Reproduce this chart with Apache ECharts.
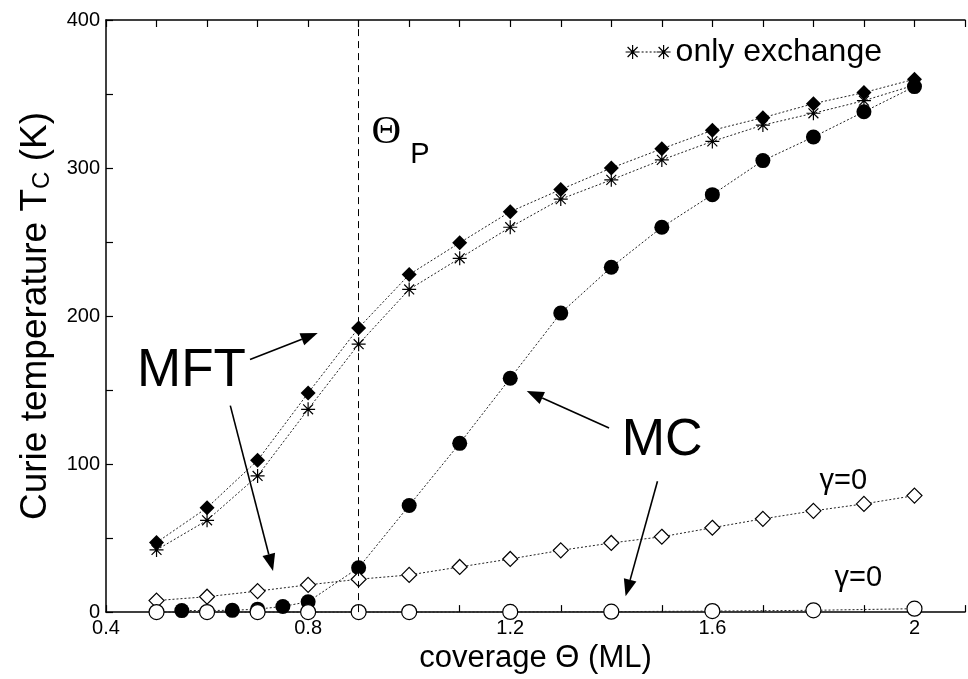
<!DOCTYPE html>
<html>
<head>
<meta charset="utf-8">
<script src="https://cdn.jsdelivr.net/npm/echarts@6/dist/echarts.min.js"></script>
<style>
  html, body { margin: 0; padding: 0; background: #fff; }
  #chart { width: 968px; height: 679px; }
</style>
</head>
<body>
<div id="chart"></div>
<script>
const FONT = '"Liberation Sans", Arial, Helvetica, sans-serif';
const SERIF = '"Liberation Serif", "Times New Roman", serif';

// Mean-field results on a common coverage grid (ML)
const coverage = [0.5, 0.6, 0.7, 0.8, 0.9, 1.0, 1.1, 1.2, 1.3, 1.4, 1.5, 1.6, 1.7, 1.8, 1.9, 2.0];
const tcMFT = [47, 70.5, 102.5, 148, 192, 228, 249.5, 270.5, 285.5, 300, 313, 325.5, 334, 343.5, 351, 360];
const tcExchange = [42, 62, 92, 137, 181, 218, 239, 260, 279, 292, 305.5, 318, 329, 337, 345.5, 356];
const tcMFTGamma0 = [7.8, 10.4, 14.2, 18.4, 22.2, 25.1, 30.5, 35.9, 41.7, 46.7, 50.9, 57, 63, 68.4, 73.1, 78.7];

// Monte Carlo results
const coverageMC = [0.55, 0.65, 0.7, 0.75, 0.8, 0.9, 1.0, 1.1, 1.2, 1.3, 1.4, 1.5, 1.6, 1.7, 1.8, 1.9, 2.0];
const tcMC = [1, 1.2, 2, 3.8, 7, 30, 72, 114, 158, 202, 233, 260, 282, 305, 321, 338, 355];
const coverageMCGamma0 = [0.5, 0.6, 0.7, 0.8, 0.9, 1.0, 1.2, 1.4, 1.6, 1.8, 2.0];
const tcMCGamma0 = [0, 0, 0, 0, 0, 0, 0.1, 0.3, 0.7, 1.2, 2.3];

// percolation coverage
const thetaP = 0.9;

// labelled ticks
const xTicks = [0.4, 0.8, 1.2, 1.6, 2];
const yTicks = [0, 100, 200, 300, 400];

// annotation arrows in data units: [tailX, tailY, tipX, tipY]
const arrows = [
  [0.685, 170.7, 0.819, 188.5],
  [0.646, 139.5, 0.7306, 27.8],
  [1.3956, 124.4, 1.2327, 149.3],
  [1.4914, 88.4, 1.4283, 10.7]
];

// annotation texts (centred at the given data position)
const noteText   = ['MFT', 'MC', 'γ=0', 'γ=0', 'Θ', 'P'];
const noteX      = [0.5692, 1.5005, 1.8590, 1.8890, 0.9545, 1.0212];
const noteY      = [162.7, 115.7, 88.7, 22.7, 324, 308.7];
const noteSize   = [53, 52, 29, 29, 41, 29];
const noteFamily = [FONT, FONT, FONT, FONT, SERIF, FONT];

const pairs = (xs, ys) => xs.map((x, i) => [x, ys[i]]);
const isTick = (v, list) => list.some(t => Math.abs(t - v) < 1e-6);

const STAR = 'path://M0,-10L0,10M-10,0L10,0M-7.07,-7.07L7.07,7.07M-7.07,7.07L7.07,-7.07';
// key sample: two asterisks joined by a dotted line
const KEY_ICON = 'path://M7,0L7,14M0,7L14,7M2,2L12,12M2,12L12,2' +
  'M38,0L38,14M31,7L45,7M33,2L43,12M33,12L43,2' +
  'M16,7L18,7M20,7L22,7M24,7L26,7M28,7L30,7';

const dotted = { color: '#222', width: 1, type: [2, 2] };

const xAxisBase = {
  type: 'value', min: 0.4, max: 2.1, interval: 0.1,
  axisLine: { show: true, onZero: false, lineStyle: { color: '#000', width: 1.5 } },
  axisTick: { show: true, inside: true, length: 7, lineStyle: { color: '#000', width: 1.2 } },
  splitLine: { show: false }
};

const chart = echarts.init(document.getElementById('chart'), null, { renderer: 'canvas' });

chart.setOption({
  animation: false,
  backgroundColor: '#fff',
  grid: { left: 106, top: 20, width: 869, height: 600, containLabel: false },
  legend: {
    data: [{ name: 'only exchange', icon: KEY_ICON }],
    left: 625, top: 36, padding: 0,
    itemWidth: 45, itemHeight: 14,
    itemStyle: { color: 'transparent', borderColor: '#000', borderWidth: 1.2 },
    textStyle: { fontSize: 32, fontFamily: FONT, color: '#000' },
    selectedMode: false
  },
  xAxis: [
    Object.assign({}, xAxisBase, {
      position: 'bottom',
      axisLabel: {
        formatter: v => isTick(v, xTicks) ? String(+v.toFixed(1)) : '',
        fontSize: 20, fontFamily: FONT, color: '#000', margin: 6
      },
      name: 'coverage Θ (ML)', nameLocation: 'middle', nameGap: 24,
      nameTextStyle: { fontSize: 31, fontFamily: FONT, color: '#000' }
    }),
    Object.assign({}, xAxisBase, { position: 'top', axisLabel: { show: false } })
  ],
  yAxis: {
    type: 'value', min: 0, max: 400, interval: 50,
    axisLine: { show: true, lineStyle: { color: '#000', width: 1.5 } },
    axisTick: { show: true, inside: true, length: 7, lineStyle: { color: '#000', width: 1.2 } },
    splitLine: { show: false },
    axisLabel: {
      formatter: v => isTick(v, yTicks) ? String(v) : '',
      fontSize: 20, fontFamily: FONT, color: '#000', margin: 6
    },
    name: 'Curie temperature T{sub|C} (K)', nameLocation: 'middle', nameGap: 52,
    nameTextStyle: {
      fontSize: 37, fontFamily: FONT, color: '#000',
      rich: { sub: { fontSize: 24, fontFamily: FONT, color: '#000', verticalAlign: 'bottom' } }
    }
  },
  series: [
    {
      name: 'only exchange', type: 'line', data: pairs(coverage, tcExchange),
      symbol: STAR, symbolSize: 14, clip: false,
      itemStyle: { color: 'transparent', borderColor: '#000', borderWidth: 1.2 },
      lineStyle: dotted,
      markLine: {
        silent: true, symbol: 'none', label: { show: false },
        lineStyle: { color: '#000', width: 1, type: [7, 5] },
        data: [{ xAxis: thetaP }]
      }
    },
    {
      name: 'MFT', type: 'line', data: pairs(coverage, tcMFT),
      symbol: 'diamond', symbolSize: 15, clip: false,
      itemStyle: { color: '#000' }, lineStyle: dotted
    },
    {
      name: 'MC', type: 'line', data: pairs(coverageMC, tcMC),
      symbol: 'circle', symbolSize: 15, clip: false,
      itemStyle: { color: '#000' }, lineStyle: dotted
    },
    {
      name: 'MFT γ=0', type: 'line', data: pairs(coverage, tcMFTGamma0),
      symbol: 'diamond', symbolSize: 15, clip: false,
      itemStyle: { color: '#fff', borderColor: '#000', borderWidth: 1.2 },
      lineStyle: dotted
    },
    {
      name: 'MC γ=0', type: 'line', data: pairs(coverageMCGamma0, tcMCGamma0),
      symbol: 'circle', symbolSize: 15, clip: false,
      itemStyle: { color: '#fff', borderColor: '#000', borderWidth: 1.2 },
      lineStyle: dotted
    },
    {
      name: 'arrows', type: 'custom', data: arrows, clip: false, silent: true,
      encode: { x: [0, 2], y: [1, 3] }, z: 5,
      renderItem: (params, api) => {
        const a = api.coord([api.value(0), api.value(1)]);
        const b = api.coord([api.value(2), api.value(3)]);
        const dx = b[0] - a[0], dy = b[1] - a[1];
        const len = Math.hypot(dx, dy), ux = dx / len, uy = dy / len;
        const hl = 17, hw = 6.5;
        const base = [b[0] - ux * hl, b[1] - uy * hl];
        return {
          type: 'group',
          children: [
            { type: 'line', shape: { x1: a[0], y1: a[1], x2: base[0], y2: base[1] },
              style: { stroke: '#000', lineWidth: 1.6 } },
            { type: 'polygon',
              shape: { points: [b, [base[0] - uy * hw, base[1] + ux * hw], [base[0] + uy * hw, base[1] - ux * hw]] },
              style: { fill: '#000' } }
          ]
        };
      }
    },
    {
      name: 'notes', type: 'custom', data: noteX.map((x, i) => [x, noteY[i]]),
      clip: false, silent: true, encode: { x: 0, y: 1 }, z: 6,
      renderItem: (params, api) => {
        const p = api.coord([api.value(0), api.value(1)]);
        const i = params.dataIndex;
        return {
          type: 'text', x: p[0], y: p[1],
          style: {
            text: noteText[i], fill: '#000',
            fontSize: noteSize[i], fontFamily: noteFamily[i],
            align: 'center', verticalAlign: 'middle'
          }
        };
      }
    }
  ]
});
</script>
</body>
</html>
